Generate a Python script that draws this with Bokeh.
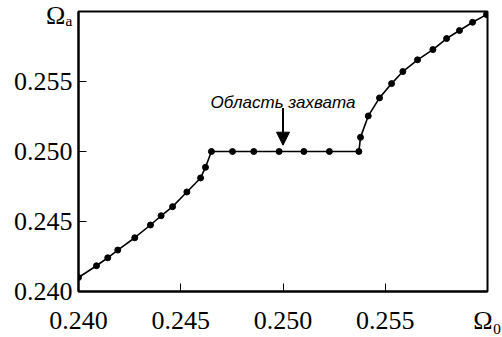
from bokeh.plotting import figure
from bokeh.models import Label, Arrow, NormalHead, FixedTicker
from bokeh.embed import file_html
from bokeh.resources import INLINE

# Data
omega0 = [0.2400, 0.24088, 0.24143, 0.24192, 0.24275, 0.24352, 0.24404, 0.24460,
          0.24530, 0.24597, 0.24621, 0.24650,
          0.24753, 0.24857, 0.24981, 0.25102, 0.25227, 0.25371,
          0.25379, 0.25417, 0.25472, 0.25531, 0.25586, 0.25658, 0.25733,
          0.25800, 0.25863, 0.25927, 0.25995]
omega_a = [0.2410, 0.24184, 0.24241, 0.24296, 0.24384, 0.24475, 0.24541, 0.24606,
           0.24711, 0.24811, 0.24887, 0.2500,
           0.2500, 0.2500, 0.2500, 0.2500, 0.2500, 0.2500,
           0.25101, 0.25254, 0.25383, 0.25485, 0.25571, 0.25655, 0.25728,
           0.25807, 0.25864, 0.25923, 0.25978]

x_ticks = [0.240, 0.245, 0.250, 0.255, 0.260]
y_ticks = [0.240, 0.245, 0.250, 0.255, 0.260]
x_tick_labels = {0.240: "0.240", 0.245: "0.245", 0.250: "0.250", 0.255: "0.255", 0.260: "Ω₀"}
y_tick_labels = {0.240: "0.240", 0.245: "0.245", 0.250: "0.250", 0.255: "0.255", 0.260: "Ωₐ"}

annot_text = "Область захвата"
annot_x = 0.2500
annot_text_y = 0.2535
arrow_y_start = 0.2531
arrow_y_end = 0.25045

p = figure(width=502, height=337, output_backend="svg", toolbar_location=None,
           x_range=(0.240, 0.260), y_range=(0.240, 0.260),
           min_border_left=78, min_border_right=15, min_border_top=11, min_border_bottom=46)
p.grid.visible = False
p.background_fill_color = "white"
p.border_fill_color = "white"
p.outline_line_color = "black"
p.outline_line_width = 2

for ax in (p.xaxis[0], p.yaxis[0]):
    ax.axis_line_width = 2
    ax.axis_line_color = "black"
    ax.major_tick_in = 8
    ax.major_tick_out = 0
    ax.major_tick_line_width = 1
    ax.minor_tick_line_color = None
    ax.major_label_text_font = "Liberation Serif"
    ax.major_label_text_font_size = "26px"
    ax.major_label_text_color = "black"

p.xaxis[0].ticker = FixedTicker(ticks=x_ticks)
p.yaxis[0].ticker = FixedTicker(ticks=y_ticks)
p.xaxis[0].major_label_overrides = x_tick_labels
p.yaxis[0].major_label_overrides = y_tick_labels
p.xaxis[0].major_label_standoff = 14
p.yaxis[0].major_label_standoff = 6

p.line(omega0, omega_a, line_color="black", line_width=1.6)
p.scatter(omega0, omega_a, size=6, fill_color="black", line_color="black")

# Annotation
p.add_layout(Label(x=annot_x, y=annot_text_y, text=annot_text, text_align="center",
                   text_baseline="alphabetic", text_font="Liberation Sans",
                   text_font_style="italic", text_font_size="17px", text_color="black"))
p.add_layout(Arrow(x_start=annot_x, y_start=arrow_y_start, x_end=annot_x, y_end=arrow_y_end,
                   line_color="black", line_width=2,
                   end=NormalHead(size=13, fill_color="black", line_color="black", line_width=1)))

open("out.html", "w").write(file_html(p, INLINE))
